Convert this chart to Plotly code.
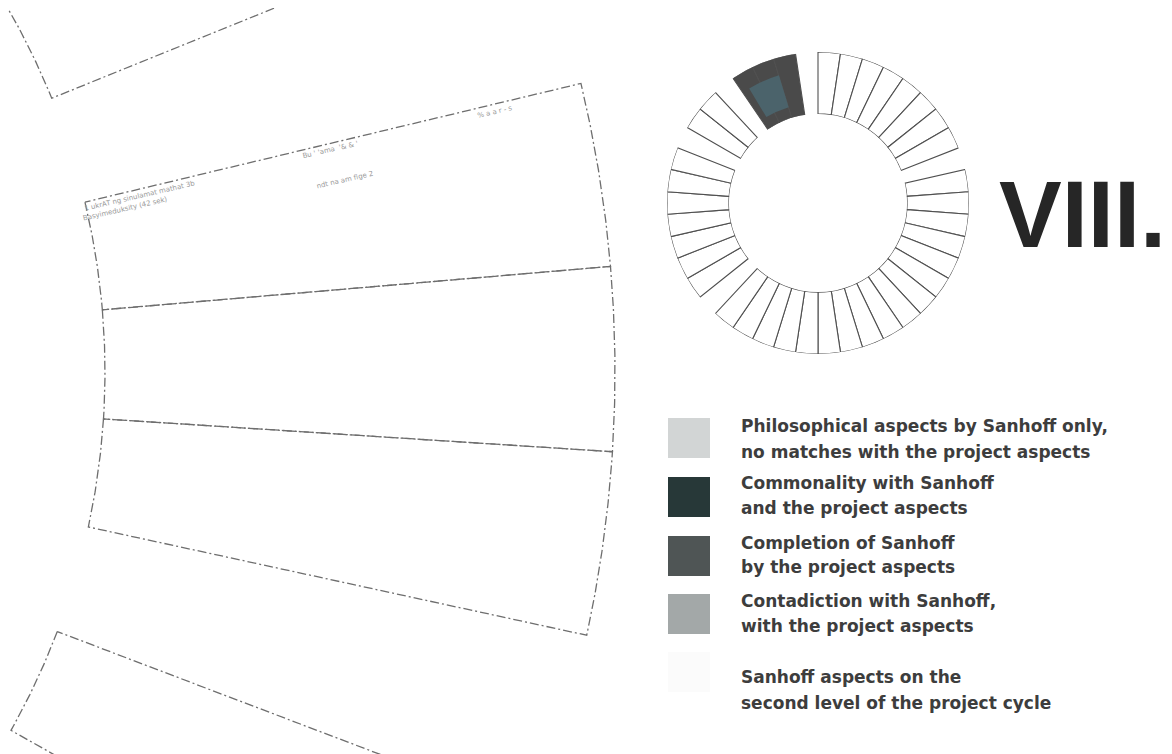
import numpy as np
import plotly.graph_objects as go

# ---------------- data ----------------
N_SLOTS = 42
# ring composition, clockwise from 12 o'clock: (category, number of slots)
ring_groups = [
    ("second", 8), ("gap", 1), ("second", 17), ("gap", 1), ("second", 7),
    ("gap", 1), ("second", 2), ("gap", 1), ("completion", 3), ("gap", 1),
]
commonality_theta = [336]        # highlighted commonality patch (deg)
commonality_span = [14]
commonality_base = [0.18]
commonality_len = [0.54]

legend_labels = [
    ["Philosophical aspects by Sanhoff only,", "no matches with the project aspects"],
    ["Commonality with Sanhoff", "and the project aspects"],
    ["Completion of Sanhoff", "by the project aspects"],
    ["Contadiction with Sanhoff,", "with the project aspects"],
    ["Sanhoff aspects on the", "second level of the project cycle"],
]
legend_colors = ["#d2d5d5", "#273838", "#4f5555", "#a3a8a8", "#fbfbfb"]
category_colors = {"second": "#ffffff", "completion": "#4a4a4a"}

# magnified sector (left): slot offsets relative to the highlighted middle slot
zoom_offsets = [-3, -1, 0, 1, 3]
zoom_mid_angle = -0.6
zoom_center = (-625, 372)
zoom_r_in, zoom_r_out = 730, 1240

title_text = "VIII."

# ---------------- build ----------------
slots = []
for cat, n in ring_groups:
    slots += [cat] * n
step = 360 / N_SLOTS
theta_c = [(i + 0.5) * step for i in range(N_SLOTS)]

fig = go.Figure()

def sector_path(a0, a1):
    cx, cy = zoom_center
    ai = np.radians(np.linspace(a0, a1, 60))
    ao = ai[::-1]
    xs = np.concatenate([cx + zoom_r_in * np.cos(ai), cx + zoom_r_out * np.cos(ao), [cx + zoom_r_in * np.cos(ai[0])]])
    ys = np.concatenate([cy + zoom_r_in * np.sin(ai), cy + zoom_r_out * np.sin(ao), [cy + zoom_r_in * np.sin(ai[0])]])
    return xs, ys

for off in zoom_offsets:
    c = zoom_mid_angle + off * step
    xs, ys = sector_path(c - step / 2, c + step / 2)
    fig.add_trace(go.Scatter(x=xs, y=ys, mode="lines", showlegend=False, hoverinfo="skip",
                             line=dict(color="#6e6e6e", width=1.3, dash="9px,3px,2px,3px"),
                             xaxis="x", yaxis="y"))

# donut ring
for cat in ["second", "completion"]:
    th = [t for t, s in zip(theta_c, slots) if s == cat]
    fig.add_trace(go.Barpolar(
        r=[1] * len(th), theta=th, width=[step] * len(th),
        marker=dict(color=category_colors[cat], line=dict(color="#505050", width=1.1)),
        showlegend=False, hoverinfo="skip", subplot="polar"))
fig.add_trace(go.Barpolar(
    r=commonality_len, theta=commonality_theta, width=commonality_span, base=commonality_base,
    marker=dict(color="#4b636b", line=dict(width=0)),
    showlegend=False, hoverinfo="skip", subplot="polar"))

# legend (manual)
shapes = []
annotations = []
sw_top = [418, 477, 536, 594, 652]
line_y = [(426, 452), (483, 508), (543, 567), (601, 626), (677, 703)]
for i, (lab, col) in enumerate(zip(legend_labels, legend_colors)):
    shapes.append(dict(type="rect", xref="x", yref="y", x0=668, x1=710, y0=sw_top[i], y1=sw_top[i] + 40,
                       fillcolor=col, line=dict(width=0), layer="above"))
    for ln, yy in zip(lab, line_y[i]):
        annotations.append(dict(xref="x", yref="y", x=739, y=yy, text=ln, showarrow=False,
                                xanchor="left", yanchor="middle",
                                font=dict(family="DejaVu Sans", size=17, color="#3d3d3d", weight="bold")))

annotations.append(dict(xref="x", yref="y", x=997, y=214, text=title_text, showarrow=False,
                        xanchor="left", yanchor="middle",
                        font=dict(family="Liberation Sans", size=94, color="#262626", weight="bold")))

# faint labels inside the magnified sector
faint = [("1 ukrAT ng sinulamat mathat 3b", 140, 196), ("Basyimeduksity (42 sek)", 125, 209),
         ("Bu ' 'ama  '& & '", 330, 150), ("ndt na am fige 2", 345, 180), ("% a a r - s", 495, 112)]
for t, x, y in faint:
    annotations.append(dict(xref="x", yref="y", x=x, y=y, text=t, showarrow=False, textangle=-13,
                            font=dict(family="DejaVu Sans", size=7, color="#9a9a9a")))

# the page has an 8px body margin: map axis values to page pixels
OFF = 8
W, H = 1172 - OFF, 754 - OFF
cxp, cyp, R = 818, 203, 151
fig.update_layout(
    width=W, height=H, autosize=False, margin=dict(l=0, r=0, t=0, b=0),
    paper_bgcolor="white", plot_bgcolor="rgba(0,0,0,0)",
    xaxis=dict(range=[OFF, OFF + W], visible=False, domain=[0, 1], fixedrange=True),
    yaxis=dict(range=[OFF + H, OFF], visible=False, domain=[0, 1], fixedrange=True),
    polar=dict(
        domain=dict(x=[(cxp - R - OFF) / W, (cxp + R - OFF) / W],
                    y=[1 - (cyp + R - OFF) / H, 1 - (cyp - R - OFF) / H]),
        hole=0.59, bgcolor="rgba(0,0,0,0)",
        radialaxis=dict(visible=False, range=[0, 1]),
        angularaxis=dict(rotation=90, direction="clockwise", showline=False, showgrid=False,
                         showticklabels=False, ticks=""),
    ),
    barmode="overlay",
    shapes=shapes, annotations=annotations, showlegend=False,
)
fig.write_html("out.html")
